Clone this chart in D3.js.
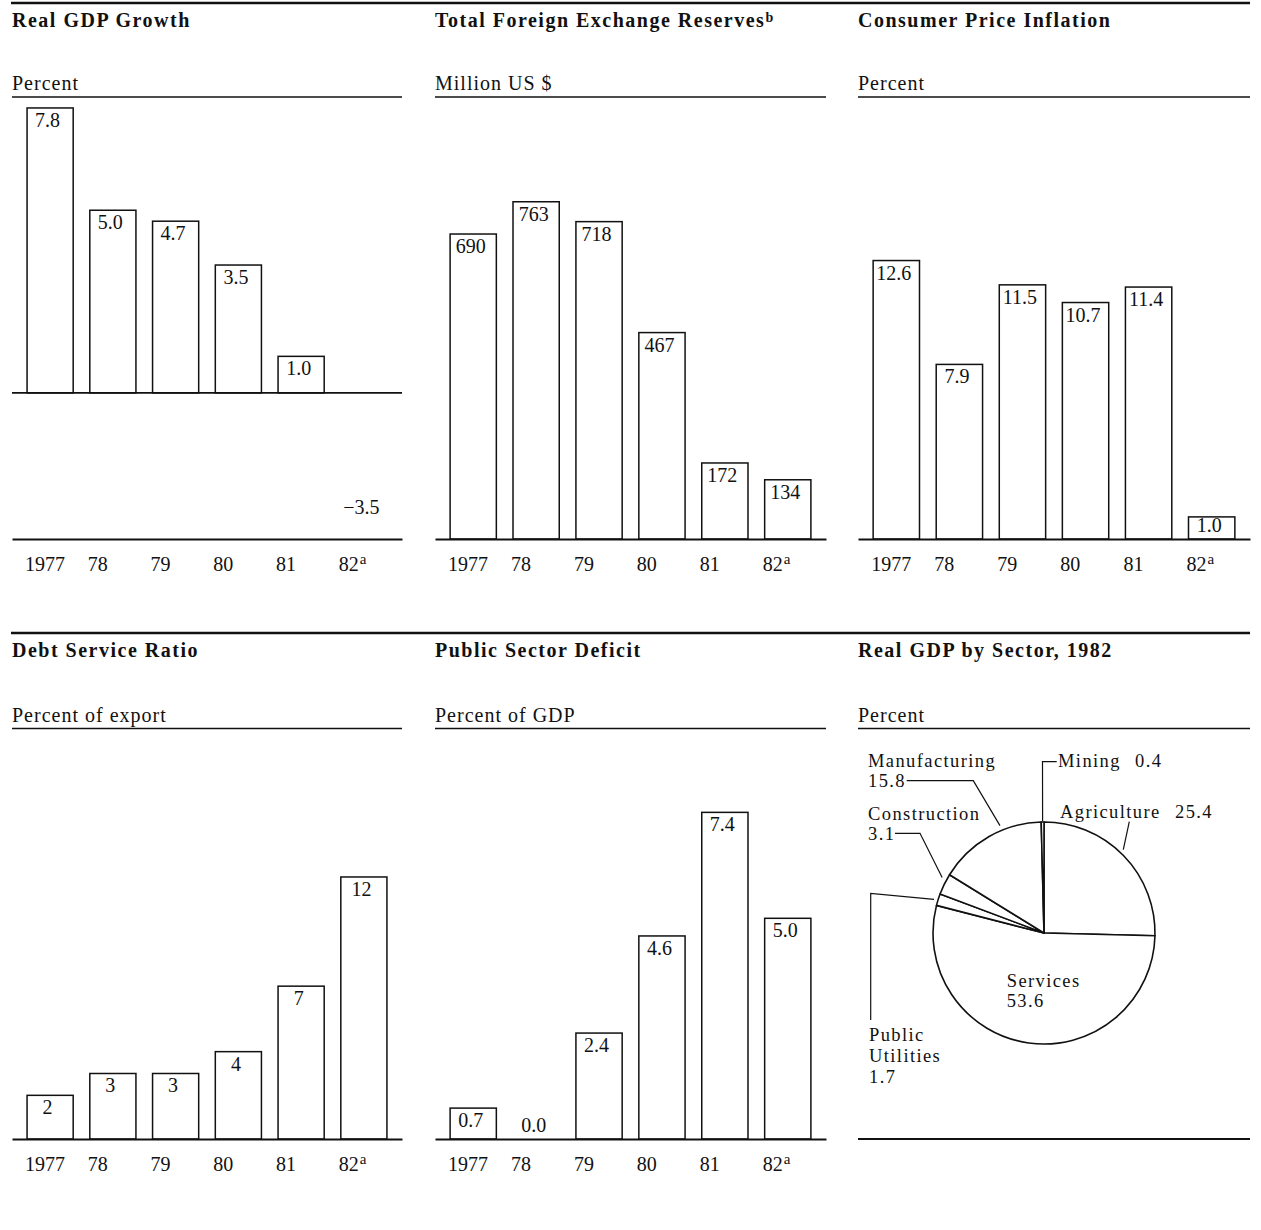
<!DOCTYPE html>
<html>
<head>
<meta charset="utf-8">
<script src="https://cdn.jsdelivr.net/npm/d3@7"></script>
<style>
  body { margin: 0; background: #fff; }
  text { font-family: "Liberation Serif", "Times New Roman", serif; fill: #111; }
</style>
</head>
<body>
<svg width="1261" height="1230"></svg>
<script>
// DATA
var years = ["1977", "78", "79", "80", "81", "82"];
var yearNotes = ["", "", "", "", "", "a"];
var gdpGrowth = [7.8, 5.0, 4.7, 3.5, 1.0, -3.5];
var fxReserves = [690, 763, 718, 467, 172, 134];
var cpiInflation = [12.6, 7.9, 11.5, 10.7, 11.4, 1.0];
var debtService = [2, 3, 3, 4, 7, 12];
var publicDeficit = [0.7, 0.0, 2.4, 4.6, 7.4, 5.0];
var sectors = ["Agriculture", "Services", "Public Utilities", "Construction", "Manufacturing", "Mining"];
var sectorShares = [25.4, 53.6, 1.7, 3.1, 15.8, 0.4];

var svg = d3.select("svg");
var ink = "#111";

// LAYOUT
var rows = [
  { rule: 3, title: 27, unit: 89.5, unitRule: 97, axis: 539 },
  { rule: 633, title: 657, unit: 721.5, unitRule: 728.5, axis: 1139 }
];
var cols = [[12, 402], [435, 826], [858, 1250]];

var panels = [
  { row: 0, col: 0, title: "Real GDP Growth", unit: "Percent", values: gdpGrowth, domain: [-4, 8.1], fmt: d3.format(".1f") },
  { row: 0, col: 1, title: "Total Foreign Exchange Reserves", note: "b", unit: "Million US $", values: fxReserves, domain: [0, 1000], fmt: d3.format("d") },
  { row: 0, col: 2, title: "Consumer Price Inflation", unit: "Percent", values: cpiInflation, domain: [0, 20], fmt: d3.format(".1f") },
  { row: 1, col: 0, title: "Debt Service Ratio", unit: "Percent of export", values: debtService, domain: [0, 18.8], fmt: d3.format("d") },
  { row: 1, col: 1, title: "Public Sector Deficit", unit: "Percent of GDP", values: publicDeficit, domain: [0, 9.3], fmt: d3.format(".1f") },
  { row: 1, col: 2, title: "Real GDP by Sector, 1982", unit: "Percent" }
];

// full-width rules above each row
rows.forEach(function (r) {
  svg.append("line")
    .attr("x1", 11).attr("x2", 1250)
    .attr("y1", r.rule).attr("y2", r.rule)
    .attr("stroke", ink).attr("stroke-width", 2.5);
});

panels.forEach(function (p) {
  var r = rows[p.row];
  var x0 = cols[p.col][0], x1 = cols[p.col][1];

  // title
  var t = svg.append("text")
    .attr("x", x0).attr("y", r.title)
    .attr("font-size", 20).attr("font-weight", "bold")
    .attr("letter-spacing", 1.5)
    .text(p.title);
  if (p.note) {
    t.append("tspan").attr("font-size", 14).attr("dy", -5).text(p.note);
  }

  // unit + rule
  svg.append("text")
    .attr("x", x0).attr("y", r.unit)
    .attr("font-size", 20).attr("letter-spacing", 1)
    .text(p.unit);
  svg.append("line")
    .attr("x1", x0).attr("x2", x1)
    .attr("y1", r.unitRule).attr("y2", r.unitRule)
    .attr("stroke", ink).attr("stroke-width", 1.5);

  if (!p.values) return;

  var x = d3.scaleBand()
    .domain(years)
    .range([x0, x1])
    .paddingInner(0.265)
    .paddingOuter(0.24);
  var y = d3.scaleLinear()
    .domain(p.domain)
    .range([r.axis, r.unitRule]);

  var g = svg.append("g");
  var data = years.map(function (yr, i) { return { year: yr, value: p.values[i] }; });

  // bars (only positive values show as open boxes)
  g.selectAll("rect")
    .data(data.filter(function (d) { return d.value > 0; }))
    .enter()
    .append("rect")
    .attr("x", function (d) { return x(d.year); })
    .attr("y", function (d) { return y(d.value); })
    .attr("width", x.bandwidth())
    .attr("height", function (d) { return y(0) - y(d.value); })
    .attr("fill", "#fff")
    .attr("stroke", ink)
    .attr("stroke-width", 1.5);

  // value labels inside top of bar
  g.selectAll(".val")
    .data(data)
    .enter()
    .append("text")
    .attr("class", "val")
    .attr("x", function (d) { return x(d.year) + x.bandwidth() / 2 - 2.5; })
    .attr("y", function (d) {
      if (d.value <= 0) return y(d.value) - 7;
      return Math.min(y(d.value) + 19, y(0) - 7);
    })
    .attr("text-anchor", "middle")
    .attr("font-size", 20)
    .text(function (d) { return d.value < 0 ? "\u2212" + p.fmt(-d.value) : p.fmt(d.value); });

  // zero line when the scale goes negative
  if (p.domain[0] < 0) {
    g.append("line")
      .attr("x1", x0).attr("x2", x1)
      .attr("y1", y(0)).attr("y2", y(0))
      .attr("stroke", ink).attr("stroke-width", 1.8);
  }

  // x axis
  var axis = g.append("g")
    .attr("transform", "translate(0," + r.axis + ")")
    .call(d3.axisBottom(x).tickSize(0).tickSizeOuter(0).tickPadding(17.5));
  axis.select(".domain").attr("stroke", ink).attr("stroke-width", 2);
  axis.selectAll(".tick text")
    .attr("font-size", 20)
    .attr("text-anchor", "start")
    .attr("x", -x.bandwidth() / 2 - 2)
    .each(function (d, i) {
      if (yearNotes[i]) {
        d3.select(this).append("tspan")
          .attr("font-size", 15).attr("dx", 1).attr("dy", -7)
          .text(yearNotes[i]);
      }
    });
});

// PIE: Real GDP by Sector
var pieRow = rows[1];
var pieCx = 1044, pieCy = 933, pieR = 111;

svg.append("line")
  .attr("x1", cols[2][0]).attr("x2", cols[2][1])
  .attr("y1", pieRow.axis).attr("y2", pieRow.axis)
  .attr("stroke", ink).attr("stroke-width", 2);

var pie = d3.pie().sort(null).value(function (d) { return d.share; });
var arc = d3.arc().innerRadius(0).outerRadius(pieR);
var slices = pie(sectors.map(function (s, i) { return { name: s, share: sectorShares[i] }; }));

var pg = svg.append("g").attr("transform", "translate(" + pieCx + "," + pieCy + ")");
pg.selectAll("path")
  .data(slices)
  .enter()
  .append("path")
  .attr("d", arc)
  .attr("fill", "#fff")
  .attr("stroke", ink)
  .attr("stroke-width", 1.6)
  .attr("stroke-linejoin", "round");

// label placement (positions only)
var sectorLayout = {
  "Agriculture":      { x: 1060, y: 818, valueX: 1175, leader: [[1129.3, 821.7]], angle: 43.6, r: 115 },
  "Services":         { x: 1006.7, y: 986.7 },
  "Public Utilities": { x: 869, y: 1041, wrap: true, step: 21, leader: [[870.7, 1020], [870.7, 893.3]], angle: 287, r: 115 },
  "Construction":     { x: 868, y: 820, step: 20, leader: [[895, 833.3], [920, 833.3]], angle: 298.6, r: 116 },
  "Manufacturing":    { x: 868, y: 767, step: 19.5, leader: [[906.7, 780.7], [973.3, 780.7]], angle: 337.7, r: 116 },
  "Mining":           { x: 1058, y: 766.7, valueX: 1135, leader: [[1056.7, 761.7], [1042.5, 761.7]], r: 112 }
};

var leaderLine = d3.line();
slices.forEach(function (s) {
  var L = sectorLayout[s.data.name];
  var value = d3.format(".1f")(s.data.share);
  var lab = svg.append("text")
    .attr("font-size", 18.5)
    .attr("letter-spacing", 1.4);
  var lines = L.wrap ? s.data.name.split(" ") : [s.data.name];
  if (L.valueX) {
    lab.append("tspan").attr("x", L.x).attr("y", L.y).text(lines[0]);
    lab.append("tspan").attr("x", L.valueX).attr("y", L.y).text(value);
  } else {
    lines.concat([value]).forEach(function (txt, k) {
      lab.append("tspan")
        .attr("x", L.x)
        .attr("y", L.y + k * (L.step || 20.6))
        .text(txt);
    });
  }

  if (L.leader) {
    var a = L.angle !== undefined ? L.angle * Math.PI / 180 : (s.startAngle + s.endAngle) / 2;
    var end = [pieCx + L.r * Math.sin(a), pieCy - L.r * Math.cos(a)];
    svg.append("path")
      .attr("d", leaderLine(L.leader.concat([end])))
      .attr("fill", "none")
      .attr("stroke", ink)
      .attr("stroke-width", 1.2);
  }
});
</script>
</body>
</html>
